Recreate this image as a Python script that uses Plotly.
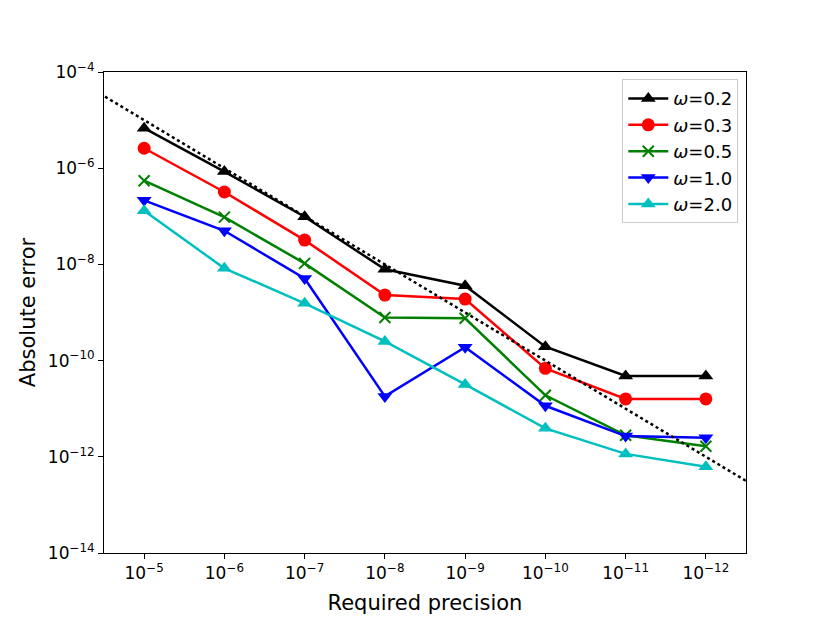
import plotly.graph_objects as go

# required precision (x) and absolute error per omega (y)
precision = [1e-5, 1e-6, 1e-7, 1e-8, 1e-9, 1e-10, 1e-11, 1e-12]
precision_labels = ["10<sup>−5</sup>", "10<sup>−6</sup>", "10<sup>−7</sup>", "10<sup>−8</sup>",
                    "10<sup>−9</sup>", "10<sup>−10</sup>", "10<sup>−11</sup>", "10<sup>−12</sup>"]

err_w02 = [6.8e-6, 8.5e-7, 9.8e-8, 7.9e-9, 3.6e-9, 1.95e-10, 4.8e-11, 4.8e-11]
err_w03 = [2.6e-6, 3.2e-7, 3.2e-8, 2.3e-9, 1.9e-9, 6.9e-11, 1.6e-11, 1.6e-11]
err_w05 = [5.5e-7, 9.6e-8, 1.05e-8, 7.9e-10, 7.6e-10, 1.9e-11, 2.8e-12, 1.66e-12]
err_w10 = [2.15e-7, 5.0e-8, 5.1e-9, 1.8e-11, 1.9e-10, 1.15e-11, 2.7e-12, 2.5e-12]
err_w20 = [1.3e-7, 8.3e-9, 1.55e-9, 2.5e-10, 3.2e-11, 3.9e-12, 1.15e-12, 6.2e-13]

# reference line: error == precision
ref_x = [1e-4, 1e-13]
ref_y = [1e-4, 1e-13]

error_ticks = [1e-4, 1e-6, 1e-8, 1e-10, 1e-12, 1e-14]
error_labels = ["10<sup>−4</sup>", "10<sup>−6</sup>", "10<sup>−8</sup>", "10<sup>−10</sup>",
                "10<sup>−12</sup>", "10<sup>−14</sup>"]

series = [
    ("<i>ω</i>=0.2", err_w02, "black", "triangle-up"),
    ("<i>ω</i>=0.3", err_w03, "#ff0000", "circle"),
    ("<i>ω</i>=0.5", err_w05, "#008000", "x-thin"),
    ("<i>ω</i>=1.0", err_w10, "#0000ff", "triangle-down"),
    ("<i>ω</i>=2.0", err_w20, "#00bfbf", "triangle-up"),
]

fig = go.Figure()
for name, ys, color, symbol in series:
    size = 13 if symbol != "x-thin" else 11
    fig.add_trace(go.Scatter(
        x=precision, y=ys, name=name, mode="lines+markers",
        line=dict(color=color, width=2.5),
        marker=dict(symbol=symbol, size=size, color=color,
                    line=dict(color=color, width=2 if symbol == "x-thin" else 0)),
    ))

fig.add_trace(go.Scatter(
    x=ref_x, y=ref_y, mode="lines", showlegend=False,
    line=dict(color="black", width=2.5, dash="dot"),
))

axis_common = dict(
    showline=True, linecolor="black", linewidth=1, mirror=True,
    ticks="outside", ticklen=5, tickcolor="black", showgrid=False, zeroline=False,
    tickfont=dict(size=17, color="black"),
)

fig.update_xaxes(
    type="log", range=[-4.5, -12.5], tickvals=precision, ticktext=precision_labels,
    title=dict(text="Required precision", font=dict(size=21, color="black"), standoff=12),
    **axis_common,
)
fig.update_yaxes(
    type="log", range=[-14, -4], tickvals=error_ticks, ticktext=error_labels,
    title=dict(text="Absolute error", font=dict(size=21, color="black"), standoff=6),
    **axis_common,
)

# page body has an 8px margin, so margins are shifted accordingly
fig.update_layout(
    width=830, height=623,
    margin=dict(l=96, r=92, t=64, b=78),
    plot_bgcolor="white", paper_bgcolor="white",
    font=dict(family="DejaVu Sans", color="black"),
    legend=dict(
        x=0.988, y=0.985, xanchor="right", yanchor="top",
        bgcolor="rgba(255,255,255,0.8)", bordercolor="#cccccc", borderwidth=1,
        font=dict(size=18), tracegroupgap=0, itemwidth=40,
    ),
)

fig.write_html("out.html")
